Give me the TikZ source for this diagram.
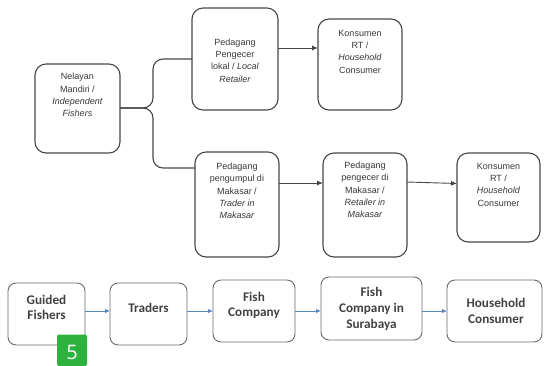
\documentclass[tikz,border=0pt]{standalone}
\usepackage{fontspec}
\setmainfont{Liberation Sans}
\newfontfamily\calfont{Carlito}
\newfontfamily\badgefont{Open Sans}
\usetikzlibrary{arrows.meta}
\definecolor{topline}{RGB}{70,70,70}
\definecolor{botline}{RGB}{105,105,105}
\definecolor{toptext}{RGB}{55,55,55}
\definecolor{bottext}{RGB}{65,65,65}
\definecolor{arrblue}{RGB}{90,135,190}
\definecolor{badgegreen}{RGB}{46,178,62}
\tikzset{
  topbox/.style={draw=topline, line width=1.1pt, rounded corners=11pt, inner sep=0pt, outer sep=0pt},
  toptxt/.style={text=toptext, font=\fontsize{9}{12.3}\selectfont, align=center, inner sep=0pt},
  botbox/.style={draw=botline, line width=0.9pt, rounded corners=8pt, inner sep=0pt, outer sep=0pt},
  bottxt/.style={text=bottext, font=\calfont\bfseries\fontsize{13.2}{15.8}\selectfont, align=center, inner sep=0pt},
  toparrow/.style={draw=topline, line width=0.9pt, -{Latex[length=6pt,width=5pt]}},
  topline/.style={draw=topline, line width=1.1pt, rounded corners=10pt},
  botarrow/.style={draw=arrblue, line width=0.8pt, -{Latex[length=5pt,width=4.5pt]}}
}
\begin{document}
\begin{tikzpicture}[x=1pt,y=-1pt]
\useasboundingbox (0,0) rectangle (544,365);
% top boxes
\node[topbox, minimum width=85pt, minimum height=89pt] (nel) at (77.5,108.5) {};
\node[topbox, minimum width=86pt, minimum height=102pt] (lok) at (235,59) {};
\node[topbox, minimum width=84pt, minimum height=91pt] (k1) at (360,64.5) {};
\node[topbox, minimum width=84pt, minimum height=105pt] (pgm) at (237,204.5) {};
\node[topbox, minimum width=84pt, minimum height=104pt] (pmk) at (365,205) {};
\node[topbox, minimum width=83pt, minimum height=89pt] (k2) at (498.5,197.5) {};
% top texts
\node[toptxt] (tnel) at (77.5,95) {Nelayan\\Mandiri /\\\textit{Independent}\\\textit{Fishers}};
\node[toptxt] (tlok) at (235,60.5) {Pedagang\\Pengecer\\lokal / \textit{Local}\\\textit{Retailer}};
\node[toptxt] (tk1) at (360,51.5) {Konsumen\\RT /\\\textit{Household}\\Consumer};
\node[toptxt] (tpgm) at (237,191) {Pedagang\\pengumpul di\\Makasar /\\\textit{Trader in}\\\textit{Makasar}};
\node[toptxt] (tpmk) at (365,190) {Pedagang\\pengecer di\\Makasar /\\\textit{Retailer in}\\\textit{Makasar}};
\node[toptxt] (tk2) at (498.5,184.5) {Konsumen\\RT /\\\textit{Household}\\Consumer};
% top connectors
\coordinate (j) at (153,108);
\draw[topline] (nel.east |- j) -- (j) -- (j |- lok.west) -- (lok.west);
\draw[topline] (nel.east |- j) -- (j) -- (153,168) -- (pgm.west |- 0,168);
\draw[toparrow] (lok.east |- 0,48) -- (k1.west |- 0,48);
\draw[toparrow] (pgm.east |- 0,183) -- (pmk.west |- 0,183);
\draw[toparrow] (pmk.east |- 0,182) -- (k2.west |- 0,183.5);
% bottom boxes
\node[botbox, minimum width=77pt, minimum height=62pt] (gf) at (46.5,314) {};
\node[botbox, minimum width=77pt, minimum height=62pt] (tr) at (148.5,314) {};
\node[botbox, minimum width=82pt, minimum height=62pt] (fc) at (254,311) {};
\node[botbox, minimum width=101pt, minimum height=63pt] (fcs) at (371.5,308.5) {};
\node[botbox, minimum width=95pt, minimum height=62pt] (hc) at (494.5,311) {};
\node[bottxt] (tgf) at (46.5,307.5) {Guided\\Fishers};
\node[bottxt] (ttr) at (148.5,308) {Traders};
\node[bottxt] (tfc) at (254,305.5) {Fish\\Company};
\node[bottxt] (tfcs) at (371.5,308.7) {Fish\\Company in\\Surabaya};
\node[bottxt] (thc) at (496,311.3) {Household\\Consumer};
\coordinate (ay) at (0,311);
\draw[botarrow] (gf.east |- ay) -- (tr.west |- ay);
\draw[botarrow] (tr.east |- ay) -- (fc.west |- ay);
\draw[botarrow] (fc.east |- ay) -- (fcs.west |- ay);
\draw[botarrow] (fcs.east |- ay) -- (hc.west |- ay);
% badge
\fill[badgegreen, rounded corners=2pt] (57,366) rectangle (87,334.5);
\node[text=white, font=\badgefont\fontsize{20}{20}\selectfont, inner sep=0pt] (badge) at (72,352) {5};
\end{tikzpicture}
\end{document}
